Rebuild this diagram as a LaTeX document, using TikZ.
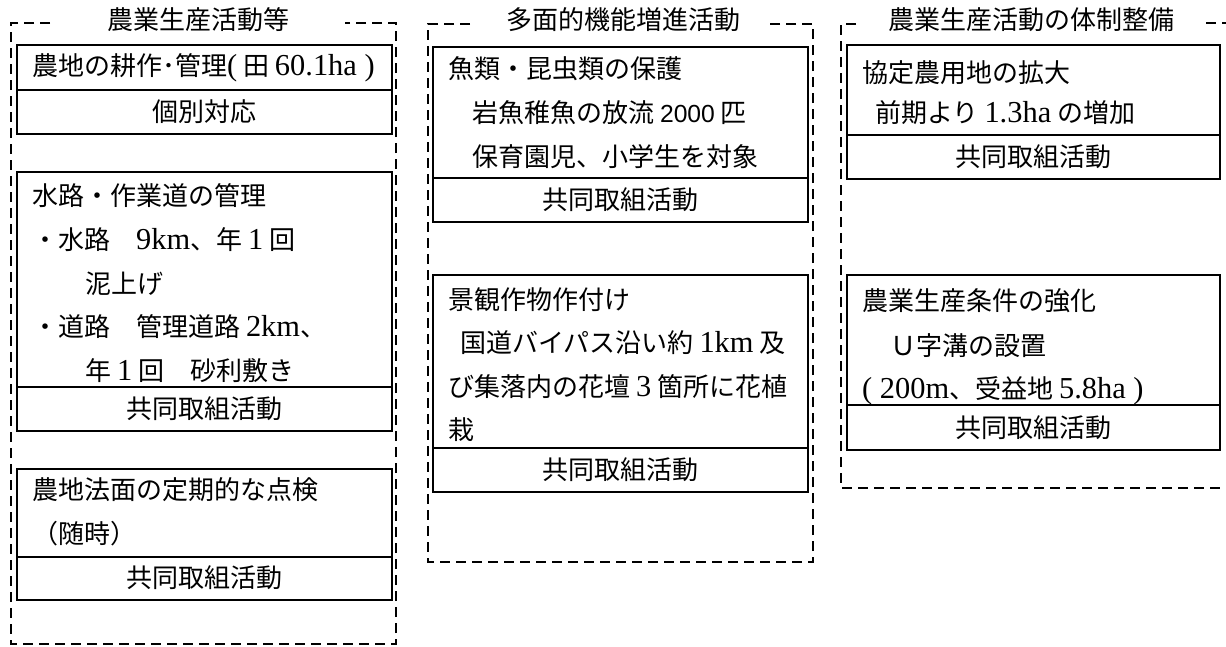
\documentclass[tikz,border=0pt]{standalone}
\usepackage{fontspec}
\setmainfont{Noto Sans CJK JP}
\newfontfamily\latfont[Scale=1.17]{Liberation Serif}
\newfontfamily\lsfont[Scale=0.95]{Liberation Sans}
\newcommand{\lr}[1]{{\latfont #1}}
\newcommand{\ls}[1]{{\lsfont #1}}
\begin{document}
\begin{tikzpicture}[x=1pt,y=-1pt,
  grp/.style={draw, line width=2.6pt, dash pattern=on 10pt off 6pt},
  box/.style={draw, line width=2.6pt},
  divl/.style={draw, line width=1.7pt},
  txt/.style={anchor=west, inner sep=0pt, font=\fontsize{26}{30}\selectfont},
  ctr/.style={inner sep=0pt, font=\fontsize{26}{30}\selectfont},
  ttl/.style={inner sep=0pt, font=\fontsize{26}{30}\selectfont}]
\useasboundingbox (0,0) rectangle (1226,646);
\fill[white] (0,0) rectangle (1226,646);

% group frames
\draw[grp] (50,23) -- (11,23) -- (11,644) -- (396,644) -- (396,23) -- (345,23);
\draw[grp] (470,24) -- (428,24) -- (428,562) -- (813,562) -- (813,24) -- (768,24);
\draw[grp] (856,24) -- (841,24) -- (841,488) -- (1236,488);
\draw[grp] (1206,23) -- (1236,23);

% titles
\node[ttl] (t1) at (198,20) {農業生産活動等};
\node[ttl] (t2) at (623,20) {多面的機能増進活動};
\node[ttl] (t3) at (1031,20) {農業生産活動の体制整備};

% left column boxes
\draw[box] (17,45) rectangle (392,134);
\draw[divl] (17,90) -- (392,90);
\node[txt] (a1) at (32,68) {農地の耕作･管理\lr{(} 田 \lr{60.1ha )}};
\node[ctr] (a2) at (204.5,112) {個別対応};

\draw[box] (17,172) rectangle (392,431);
\draw[divl] (17,387) -- (392,387);
\node[txt] (b1) at (32,196) {水路・作業道の管理};
\node[txt] (b2) at (32,240) {・水路　\lr{9km}、年 \lr{1} 回};
\node[txt] (b3) at (85,284) {泥上げ};
\node[txt] (b4) at (32,327) {・道路　管理道路 \lr{2km}、};
\node[txt] (b5) at (85,371) {年 \lr{1} 回　砂利敷き};
\node[ctr] (b6) at (204.5,409) {共同取組活動};

\draw[box] (17,469) rectangle (392,600);
\draw[divl] (17,557) -- (392,557);
\node[txt] (c1) at (32,490) {農地法面の定期的な点検};
\node[txt] (c2) at (32,534) {（随時）};
\node[ctr] (c3) at (204.5,578) {共同取組活動};

% middle column boxes
\draw[box] (433,47) rectangle (808,222);
\draw[divl] (433,178) -- (808,178);
\node[txt] (d1) at (448,69) {魚類・昆虫類の保護};
\node[txt] (d2) at (472,113) {岩魚稚魚の放流 \ls{2000} 匹};
\node[txt] (d3) at (472,157) {保育園児、小学生を対象};
\node[ctr] (d4) at (620.5,200) {共同取組活動};

\draw[box] (433,275) rectangle (808,492);
\draw[divl] (433,448) -- (808,448);
\node[txt] (e1) at (448,300) {景観作物作付け};
\node[txt] (e2) at (460,343) {国道バイパス沿い約 \lr{1km} 及};
\node[txt] (e3) at (448,387) {び集落内の花壇 \lr{3} 箇所に花植};
\node[txt] (e4) at (448,430) {栽};
\node[ctr] (e5) at (620.5,470) {共同取組活動};

% right column boxes
\draw[box] (847,45) rectangle (1220,179);
\draw[divl] (847,135) -- (1220,135);
\node[txt] (f1) at (862,73) {協定農用地の拡大};
\node[txt] (f2) at (875,113) {前期より \lr{1.3ha} の増加};
\node[ctr] (f3) at (1033.5,157) {共同取組活動};

\draw[box] (847,275) rectangle (1220,450);
\draw[divl] (847,405) -- (1220,405);
\node[txt] (g1) at (862,301) {農業生産条件の強化};
\node[txt] (g2) at (890,346) {Ｕ字溝の設置};
\node[txt] (g3) at (862,391) {\lr{( 200m}、受益地 \lr{5.8ha )}};
\node[ctr] (g4) at (1033.5,428) {共同取組活動};
\end{tikzpicture}
\end{document}
